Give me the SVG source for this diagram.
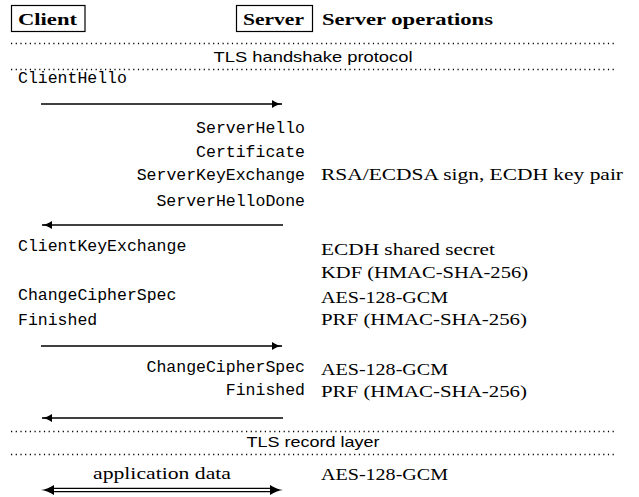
<svg xmlns="http://www.w3.org/2000/svg" width="639" height="497" viewBox="0 0 639 497">
<style>
.mono{font-family:"Liberation Mono","DejaVu Sans Mono",monospace;font-size:16.5px;fill:#000}
.serif{font-family:"Liberation Serif","DejaVu Serif",serif;font-size:17px;fill:#000}
.bold{font-family:"Liberation Serif","DejaVu Serif",serif;font-size:17px;font-weight:bold;fill:#000}
.sans{font-family:"Liberation Sans","DejaVu Sans",sans-serif;font-size:15px;fill:#000}
.box{fill:none;stroke:#000;stroke-width:1.2}
.dots{stroke:#000;stroke-width:1.3;stroke-dasharray:1.2 3.5;fill:none}
.arrow{stroke:#000;stroke-width:1.6;fill:none;marker-end:url(#head)}
.dbl{stroke:#000;stroke-width:1.3;fill:none}
</style>
<defs>
<marker id="head" markerUnits="userSpaceOnUse" markerWidth="13" markerHeight="10" viewBox="-11 -5 13 10" refX="0" refY="0" orient="auto">
<path d="M-10,-4 C-6.5,-1.8 -3.5,-0.5 0.5,0 C-3.5,0.5 -6.5,1.8 -10,4 z" fill="#000"/>
</marker>
</defs>
<rect width="639" height="497" fill="#fff"/>
<g id="client">
<rect class="box" x="11.5" y="5.5" width="73.5" height="26"/>
<text class="bold" x="18" y="25" textLength="59" lengthAdjust="spacingAndGlyphs">Client</text>
</g>
<g id="server">
<rect class="box" x="236.5" y="5.5" width="76" height="26"/>
<text class="bold" x="243" y="25" textLength="61" lengthAdjust="spacingAndGlyphs">Server</text>
</g>
<g id="server-operations-header">
<text class="bold" x="322" y="25" textLength="171" lengthAdjust="spacingAndGlyphs">Server operations</text>
</g>
<g id="handshake-section">
<line class="dots" x1="11" y1="43.5" x2="616" y2="43.5"/>
<text class="sans" x="313" y="62" text-anchor="middle" textLength="199" lengthAdjust="spacingAndGlyphs">TLS handshake protocol</text>
<line class="dots" x1="11" y1="69.5" x2="616" y2="69.5"/>
</g>
<g id="record-section">
<line class="dots" x1="11" y1="431.5" x2="616" y2="431.5"/>
<text class="sans" x="313" y="447" text-anchor="middle" textLength="133" lengthAdjust="spacingAndGlyphs">TLS record layer</text>
<line class="dots" x1="11" y1="454.5" x2="616" y2="454.5"/>
</g>
<g id="client-messages">
<text class="mono" x="18" y="83">ClientHello</text>
<text class="mono" x="18" y="251">ClientKeyExchange</text>
<text class="mono" x="18" y="300">ChangeCipherSpec</text>
<text class="mono" x="18" y="325">Finished</text>
</g>
<g id="server-messages">
<text class="mono" x="305" y="133" text-anchor="end">ServerHello</text>
<text class="mono" x="305" y="157" text-anchor="end">Certificate</text>
<text class="mono" x="305" y="180" text-anchor="end">ServerKeyExchange</text>
<text class="mono" x="305" y="206" text-anchor="end">ServerHelloDone</text>
<text class="mono" x="305" y="372" text-anchor="end">ChangeCipherSpec</text>
<text class="mono" x="305" y="395" text-anchor="end">Finished</text>
</g>
<g id="operations">
<text class="serif" x="321" y="180" textLength="302" lengthAdjust="spacingAndGlyphs">RSA/ECDSA sign, ECDH key pair</text>
<text class="serif" x="321" y="255" textLength="174" lengthAdjust="spacingAndGlyphs">ECDH shared secret</text>
<text class="serif" x="321" y="278" textLength="207" lengthAdjust="spacingAndGlyphs">KDF (HMAC-SHA-256)</text>
<text class="serif" x="321" y="303" textLength="127" lengthAdjust="spacingAndGlyphs">AES-128-GCM</text>
<text class="serif" x="321" y="325" textLength="206" lengthAdjust="spacingAndGlyphs">PRF (HMAC-SHA-256)</text>
<text class="serif" x="321" y="375" textLength="127" lengthAdjust="spacingAndGlyphs">AES-128-GCM</text>
<text class="serif" x="321" y="397" textLength="206" lengthAdjust="spacingAndGlyphs">PRF (HMAC-SHA-256)</text>
<text class="serif" x="321" y="480" textLength="127" lengthAdjust="spacingAndGlyphs">AES-128-GCM</text>
</g>
<g id="connectors">
<line class="arrow" x1="41" y1="104" x2="282" y2="104"/>
<line class="arrow" x1="283" y1="225" x2="42" y2="225"/>
<line class="arrow" x1="41" y1="346" x2="282" y2="346"/>
<line class="arrow" x1="283" y1="418" x2="42" y2="418"/>
<g id="application-data">
<text class="serif" x="162" y="479" text-anchor="middle" textLength="138" lengthAdjust="spacingAndGlyphs">application data</text>
<line class="dbl" x1="50" y1="488.3" x2="274" y2="488.3"/>
<line class="dbl" x1="50" y1="491.7" x2="274" y2="491.7"/>
<path d="M283,490 C279,490.6 275,492 270,495 L270,485 C275,488 279,489.4 283,490 z" fill="#000"/>
<path d="M41,490 C45,490.6 49,492 54,495 L54,485 C49,488 45,489.4 41,490 z" fill="#000"/>
</g>
</g>
</svg>
